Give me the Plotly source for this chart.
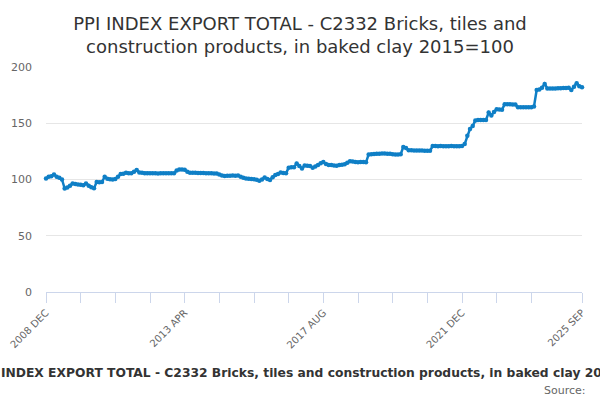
import plotly.graph_objects as go

# monthly index values, 2008 DEC .. 2025 SEP
values = [
    101, 102.5, 103, 104.5, 102.5, 101.5, 100, 92, 92.8, 94.5, 96.5, 96,
    95.6, 95.3, 95, 96.5, 94.5, 93.2, 92.3, 97.7, 97.6, 97.8, 102.4, 100.7,
    100.2, 100, 100.5, 102.4, 104.8, 105.2, 106, 105.6, 105.5, 107, 108.4, 106.2,
    106, 105.6, 105.5, 105.5, 105.6, 105.5, 105.4, 105.5, 105.5, 105.6, 105.5, 105.5,
    105.5, 108, 108.8, 109, 108.6, 107, 106, 106, 105.9, 105.8, 105.8, 105.7,
    105.6, 105.6, 105.5, 105.4, 105.3, 104.5, 103.5, 103.2, 103.3, 103.3, 103.5, 103.4,
    103.5, 102.5, 101.5, 101, 100.7, 100.5, 100.3, 99.8, 99, 100, 101.8, 100.5,
    99.5, 102, 104, 105, 106.3, 105.8, 105.5, 110.5, 110.8, 111, 114.3, 112,
    109.8, 112.5, 112.2, 112, 110.5, 111.5, 113, 114.5, 115.5, 113.8, 113, 113,
    112.5, 112.3, 112.8, 113.2, 113.5, 115, 116.3, 116, 115.5, 115.4, 115.5, 115.5,
    115.3, 122.3, 122.5, 122.6, 122.8, 123, 123.2, 123.2, 123, 123, 122.5, 122.3,
    122.3, 122.5, 129, 128, 126, 126, 125.8, 125.8, 125.7, 125.8, 125.6, 125.5,
    125.5, 129.7, 129.7, 129.6, 129.7, 129.6, 129.5, 129.6, 129.7, 129.6, 129.5, 129.6,
    129.7, 131.5, 139, 145, 147.5, 152.5, 153, 153, 152.8, 153, 159.5, 157,
    160, 162.4, 162.2, 162, 167, 166.8, 166.8, 166.7, 166.6, 164.2, 164.2, 164.3,
    164.2, 164.2, 164.3, 165, 179.6, 180, 181.5, 185, 181, 180.8, 181, 181,
    181.2, 181.2, 181.3, 181.4, 181.5, 179.6, 182.5, 185.6, 183, 182,
]

month_names = ["JAN", "FEB", "MAR", "APR", "MAY", "JUN",
               "JUL", "AUG", "SEP", "OCT", "NOV", "DEC"]
months = []
for k in range(len(values)):
    m = (11 + k) % 12
    y = 2008 + (11 + k) // 12
    months.append(f"{y} {month_names[m]}")

labelled = ["2008 DEC", "2013 APR", "2017 AUG", "2021 DEC", "2025 SEP"]
tick_idx = list(range(0, len(values) - 13, 13)) + [len(values) - 1]
tickvals = [months[i] for i in tick_idx]
ticktext = [t if t in labelled else "" for t in tickvals]

title = "PPI INDEX EXPORT TOTAL - C2332 Bricks, tiles and construction products, in baked clay 2015=100"

fig = go.Figure(go.Scatter(
    x=months, y=values, mode="lines+markers",
    line=dict(color="#0f7fc6", width=2.5),
    marker=dict(color="#0f7fc6", size=4.5),
    cliponaxis=False, hoverinfo="x+y",
))

fig.update_layout(
    width=600, height=400,
    margin=dict(l=46, r=18, t=67, b=108, autoexpand=False),
    paper_bgcolor="white", plot_bgcolor="white",
    font=dict(family="DejaVu Sans", color="#666666"),
    showlegend=False,
    title=dict(text="PPI INDEX EXPORT TOTAL - C2332 Bricks, tiles and<br>construction products, in baked clay 2015=100",
               x=0.5, xanchor="center", y=1 - 30 / 400, yanchor="middle",
               font=dict(size=18, color="#333333")),
    xaxis=dict(type="category", range=[0, len(values) - 1], automargin=False,
               tickmode="array", tickvals=tickvals, ticktext=ticktext,
               tickangle=-45, ticks="outside", ticklen=10, tickcolor="#ccd6eb",
               showline=True, linecolor="#ccd6eb", showgrid=False,
               tickfont=dict(size=10, color="#666666")),
    yaxis=dict(range=[0, 200], tickvals=[0, 50, 100, 150, 200], automargin=False,
               gridcolor="#e6e6e6", zeroline=False, showline=False,
               tickfont=dict(size=11, color="#666666"), ticklabelstandoff=13),
    annotations=[
        dict(text="<b>" + title + "</b>", x=0.5, xref="paper", xanchor="center",
             y=-(373 - 291.7) / 224.7, yref="paper", yanchor="middle",
             showarrow=False, font=dict(size=12.3, color="#333333")),
        dict(text="Source:", x=1 + (588 - 582) / 536, xref="paper", xanchor="right",
             y=-(390 - 291.7) / 224.7, yref="paper", yanchor="middle",
             showarrow=False, font=dict(size=11, color="#666666")),
    ],
)

fig.write_html("out.html", config={"displayModeBar": False},
               post_script="document.body.style.margin='0px';")
